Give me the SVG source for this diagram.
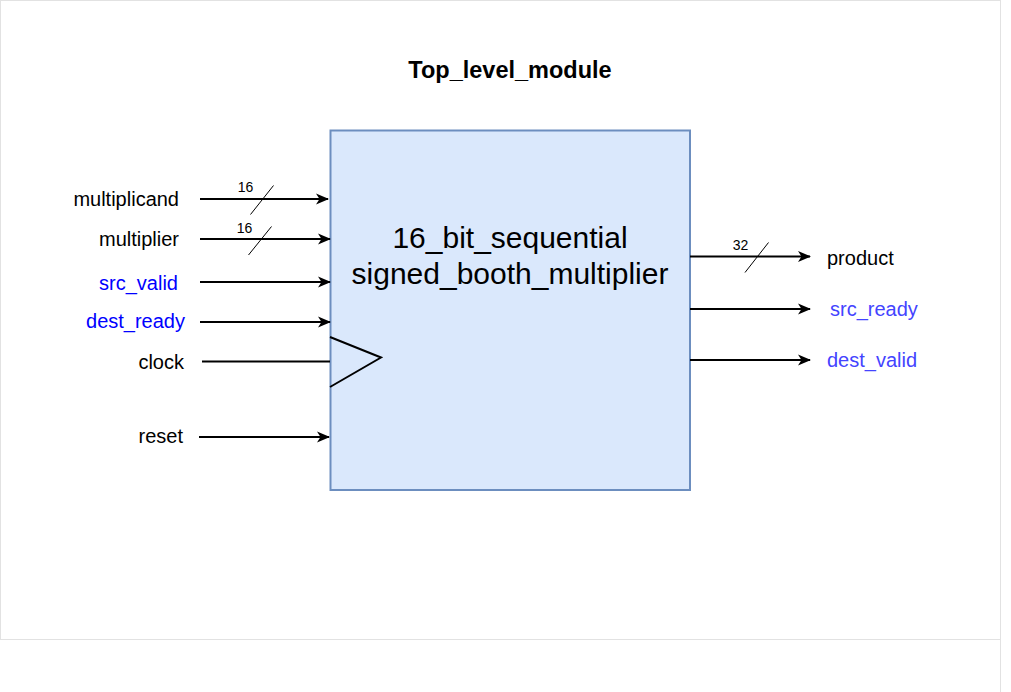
<svg xmlns="http://www.w3.org/2000/svg" width="1011" height="692" viewBox="0 0 1011 692">
<style>
text{font-family:"Liberation Sans",Arial,Helvetica,sans-serif;fill:#000}
.pin{font-size:20px}
.bus{font-size:14px}
.blue{fill:#0000ff}
.lblue{fill:#4444ff}
.wire{stroke:#000;stroke-width:2;fill:none}
.arr{marker-end:url(#ah)}
.slash{stroke:#000;stroke-width:1;fill:none}
</style>
<defs>
<marker id="ah" viewBox="0 0 13 12" refX="12" refY="6" markerWidth="13" markerHeight="12" markerUnits="userSpaceOnUse" orient="auto">
<path d="M0,0.5 L13,6 L0,11.5 L3.5,6 Z" fill="#000"/>
</marker>
</defs>
<rect width="1011" height="692" fill="#fff"/>
<g id="page">
<rect x="0.5" y="0.5" width="1000" height="639" fill="none" stroke="#e2e2e2" stroke-width="1"/>
<line x1="1000.5" y1="639" x2="1000.5" y2="692" stroke="#e2e2e2" stroke-width="1"/>
</g>
<g id="title">
<text x="510" y="78" text-anchor="middle" font-size="23.5" font-weight="bold">Top_level_module</text>
</g>
<g id="module">
<rect x="330.5" y="130.5" width="359.5" height="359.5" fill="#dae8fc" stroke="#6c8ebf" stroke-width="2"/>
<polyline points="330,337 381,357.5 330,387" fill="none" stroke="#000" stroke-width="2"/>
<text x="510" y="248" text-anchor="middle" font-size="30">16_bit_sequential</text>
<text x="510" y="284" text-anchor="middle" font-size="30">signed_booth_multiplier</text>
</g>
<g id="labels">
<text class="pin" x="179" y="206" text-anchor="end">multiplicand</text>
<text class="pin" x="179" y="246" text-anchor="end">multiplier</text>
<text class="pin blue" x="178" y="290" text-anchor="end">src_valid</text>
<text class="pin blue" x="185" y="328" text-anchor="end">dest_ready</text>
<text class="pin" x="184" y="369" text-anchor="end">clock</text>
<text class="pin" x="183" y="443" text-anchor="end">reset</text>
<text class="pin" x="827" y="265">product</text>
<text class="pin lblue" x="830" y="316">src_ready</text>
<text class="pin lblue" x="827" y="367">dest_valid</text>
</g>
<g id="connectors">
<line class="wire arr" x1="200" y1="199" x2="328" y2="199"/>
<line class="wire arr" x1="200" y1="239" x2="330" y2="239"/>
<line class="wire arr" x1="200" y1="282" x2="330" y2="282"/>
<line class="wire arr" x1="200" y1="322" x2="330" y2="322"/>
<line class="wire" x1="202" y1="361.5" x2="330" y2="361.5"/>
<line class="wire arr" x1="199" y1="437" x2="329" y2="437"/>
<line class="wire arr" x1="690" y1="256.5" x2="810" y2="256.5"/>
<line class="wire arr" x1="690" y1="309" x2="810" y2="309"/>
<line class="wire arr" x1="690" y1="360" x2="810" y2="360"/>
<line class="slash" x1="250.5" y1="214.5" x2="273.5" y2="185.5"/>
<line class="slash" x1="248.5" y1="255" x2="271.5" y2="226.5"/>
<line class="slash" x1="745" y1="272.5" x2="768.5" y2="242.5"/>
<text class="bus" x="245.5" y="192" text-anchor="middle">16</text>
<text class="bus" x="244.5" y="233" text-anchor="middle">16</text>
<text class="bus" x="740.5" y="249.5" text-anchor="middle">32</text>
</g>
</svg>
